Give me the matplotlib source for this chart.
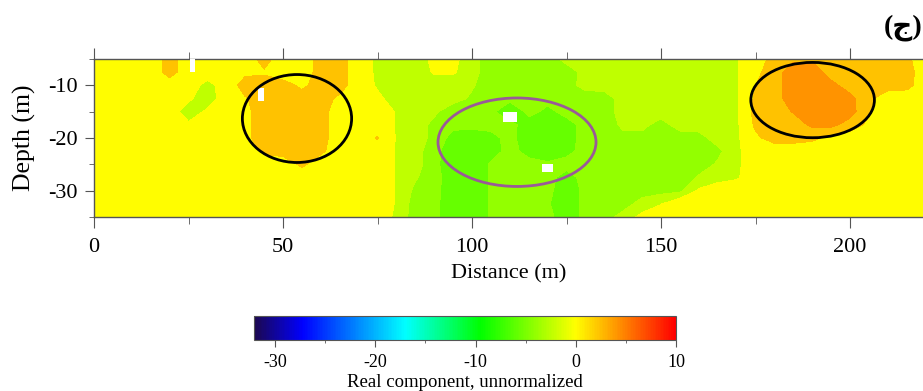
import numpy as np
import matplotlib
matplotlib.use('Agg')
import matplotlib.pyplot as plt
import matplotlib.patches as mpatches
from matplotlib.colors import LinearSegmentedColormap, Normalize
from matplotlib.cm import ScalarMappable

plt.rcParams['font.family'] = ['Liberation Serif', 'DejaVu Sans']
plt.rcParams['axes.unicode_minus'] = False

# grid nodes of the section
distance = [0, 5, 10, 15, 20, 25, 30, 35, 40, 45, 50, 55, 60, 65, 70, 75, 80, 85, 90, 95,
            100, 105, 110, 115, 120, 125, 130, 135, 140, 145, 150, 155, 160, 165, 170, 175,
            180, 185, 190, 195, 200, 205, 210, 215, 220]
depth = [-5, -7.5, -10, -12.5, -15, -17.5, -20, -22.5, -25, -27.5, -30, -32.5, -35]

# real component (unnormalized), one row per depth
real_part = [
    [0, 0, 0, 0, 2.5, 0, 0, 0, 0, 2.5, 0, 0, 2.5, 2.5, 0, -2.0, -2.5, -2.5, -1.0, -1.0, -2.5, -4.3, -4.3, -4.3, -4.3, -2.5, -2.5, -2.5, -2.5, -2.5, -2.5, -2.5, -2.5, -2.5, -1.7, 0, 2.5, 3.0, 3.0, 2.5, 2.5, 2.5, 2.5, 2.0, 0],
    [0, 0, 0, 0, 2.5, 0, 0, 0, 1.0, 1.2, 0, 0, 2.5, 2.5, 0, -2.0, -2.5, -2.5, -1.3, -1.3, -2.5, -4.3, -4.3, -4.3, -4.3, -4.3, -2.5, -2.5, -2.5, -2.5, -2.5, -2.5, -2.5, -2.5, -1.7, 1.0, 2.5, 4.3, 4.3, 2.5, 2.5, 2.5, 2.5, 2.5, 0],
    [0, 0, 0, 0, 0, 0, -2.5, 0, 2.5, 2.5, 2.5, 1.0, 2.5, 2.5, 0, -1.8, -2.5, -2.5, -2.5, -2.5, -3.0, -4.3, -4.3, -4.3, -4.3, -4.0, -2.5, -2.5, -2.5, -2.5, -2.5, -2.5, -2.5, -2.5, -1.8, 1.5, 2.5, 4.3, 4.3, 3.8, 2.5, 2.5, 2.5, 2.3, 0],
    [0, 0, 0, 0, 0, -1.0, -3.0, 0, 1.3, 2.5, 2.5, 2.5, 2.5, 1.0, 0, -1.0, -2.5, -2.5, -2.5, -2.5, -3.5, -4.3, -4.3, -4.3, -4.3, -4.3, -4.3, -4.0, -2.5, -2.5, -2.5, -2.5, -2.5, -2.5, -1.9, 2.0, 2.5, 4.3, 4.3, 4.3, 3.8, 2.0, 0, 0, 0],
    [0, 0, 0, 0, 0, -3.0, -1.0, 0, 1.0, 2.5, 2.5, 2.5, 2.5, 0, 0, 0, -1.7, -2.5, -2.9, -4.3, -4.3, -4.3, -6.3, -4.3, -5.2, -4.3, -4.3, -4.0, -2.5, -2.5, -2.5, -2.5, -2.5, -2.5, -2.0, 2.5, 2.5, 3.4, 4.3, 4.3, 4.0, 1.8, 0, 0, 0],
    [0, 0, 0, 0, 0, -1.0, 0, 0, 1.0, 2.5, 2.5, 2.5, 2.5, 0, 0, 0, -1.7, -2.5, -3.6, -4.3, -4.3, -4.3, -4.3, -5.6, -6.3, -5.4, -4.3, -4.3, -2.8, -2.8, -3.8, -2.5, -2.5, -2.5, -2.0, 2.0, 2.5, 2.5, 3.6, 3.8, 2.5, 1.0, 0, 0, 0],
    [0, 0, 0, 0, 0, 0, 0, 0, 1.0, 2.5, 2.5, 2.5, 2.5, 0, 0, 1.7, -1.7, -2.5, -3.6, -5.5, -5.8, -5.3, -4.3, -5.8, -6.3, -5.4, -4.3, -4.3, -3.7, -3.7, -4.3, -4.0, -3.8, -2.5, -2.0, 1.0, 2.5, 2.5, 2.0, 0.8, 0.5, 0, 0, 0, 0],
    [0, 0, 0, 0, 0, 0, 0, 0, 0, 2.0, 2.5, 2.5, 2.0, 0, 0, 0, -1.7, -2.5, -4.3, -5.8, -6.3, -5.5, -4.3, -5.3, -6.0, -5.2, -4.3, -4.3, -4.3, -4.3, -4.3, -4.3, -4.3, -3.6, -2.0, 0, 0, 0, 0, 0, 0, 0, 0, 0, 0],
    [0, 0, 0, 0, 0, 0, 0, 0, 0, 0, 0, 2.0, 0, 0, 0, 0, -1.7, -2.5, -4.3, -6.0, -6.3, -4.6, -4.3, -4.3, -4.5, -4.3, -4.3, -4.3, -4.3, -4.3, -4.3, -4.3, -4.0, -3.0, -2.0, 0, 0, 0, 0, 0, 0, 0, 0, 0, 0],
    [0, 0, 0, 0, 0, 0, 0, 0, 0, 0, 0, 0, 0, 0, 0, 0, -1.7, -3.0, -4.3, -5.6, -6.3, -4.6, -4.3, -4.3, -4.3, -5.4, -4.3, -4.3, -4.3, -4.3, -4.3, -4.3, -3.0, -2.5, -1.8, 0, 0, 0, 0, 0, 0, 0, 0, 0, 0],
    [0, 0, 0, 0, 0, 0, 0, 0, 0, 0, 0, 0, 0, 0, 0, 0, -1.7, -3.6, -4.3, -5.8, -6.3, -4.6, -4.3, -4.3, -4.3, -6.0, -4.3, -4.3, -4.3, -4.0, -3.8, -3.6, -1.2, 0, 0, 0, 0, 0, 0, 0, 0, 0, 0, 0, 0],
    [0, 0, 0, 0, 0, 0, 0, 0, 0, 0, 0, 0, 0, 0, 0, 0, -1.7, -4.0, -4.3, -6.0, -6.3, -4.6, -4.3, -4.3, -4.6, -6.0, -4.3, -4.3, -4.0, -2.5, -1.6, 0, 0, 0, 0, 0, 0, 0, 0, 0, 0, 0, 0, 0, 0],
    [0, 0, 0, 0, 0, 0, 0, 0, 0, 0, 0, 0, 0, 0, 0, 0, -2.0, -4.0, -4.3, -6.0, -6.0, -4.6, -4.3, -4.3, -4.3, -5.8, -4.3, -4.0, -2.5, -1.0, 0, 0, 0, 0, 0, 0, 0, 0, 0, 0, 0, 0, 0, 0, 0],
]

# contour intervals used for the fill
levels = [-6.6, -4.8, -3.2, -1.5, 1.5, 3.3, 5]

# colour scale
scale_vals = [-32.1, -27.3, -17.0, -9.5, 0.0, 10.0]
scale_cols = ['#1c0850', '#0000ff', '#00ffff', '#00ff00', '#ffff00', '#ff0000']

# blanked (no data) cells: x from, x to, depth top, depth bottom
gap_x0 = [25.4, 43.5, 108.2, 118.5]
gap_x1 = [26.7, 45.0, 111.9, 121.5]
gap_top = [-5.0, -10.5, -15.0, -25.0]
gap_bot = [-7.5, -13.0, -16.9, -26.5]

# anomaly outlines: centre x, centre depth, width, height, colour
ell_x = [53.7, 111.9, 190.1]
ell_z = [-16.3, -20.8, -12.8]
ell_w = [28.9, 41.8, 32.7]
ell_h = [16.7, 16.8, 14.3]
ell_col = ['black', '#9a5a98', 'black']

vmin, vmax = scale_vals[0], scale_vals[-1]
norm = Normalize(vmin=vmin, vmax=vmax)
pos = [(v - vmin) / (vmax - vmin) for v in scale_vals]
cmap = LinearSegmentedColormap.from_list('surfer', list(zip(pos, scale_cols)))

fig = plt.figure(figsize=(9.23, 3.91), dpi=100)
ax = fig.add_axes([94/923, 1 - 217/391, 1 - 94/923, 158/391])

ax.contourf(distance, depth, np.array(real_part), levels=levels, cmap=cmap, norm=norm)

for x0, x1, zt, zb in zip(gap_x0, gap_x1, gap_top, gap_bot):
    ax.add_patch(mpatches.Rectangle((x0, zb), x1 - x0, zt - zb, fc='white', ec='none', zorder=3))

for x, z, w, h, c in zip(ell_x, ell_z, ell_w, ell_h, ell_col):
    ax.add_patch(mpatches.Ellipse((x, z), w, h, fill=False, ec=c, lw=2.0, zorder=4))

ax.set_xlim(0, 219.3)
ax.set_ylim(-35, -5)

spine_col = '#555555'
for s in ['top', 'bottom', 'left']:
    ax.spines[s].set_color(spine_col)
    ax.spines[s].set_linewidth(1.0)
ax.spines['right'].set_visible(False)

ax.set_xticks([0, 50, 100, 150, 200])
ax.set_xticks([25, 75, 125, 175], minor=True)
ax.set_yticks([-30, -20, -10])
ax.set_yticks([-35, -25, -15, -5], minor=True)
ax.tick_params(axis='x', which='both', direction='out', top=True, bottom=True,
               colors=spine_col, labelcolor='black')
ax.tick_params(axis='x', which='major', length=8, pad=7, labelsize=16)
ax.tick_params(axis='x', which='minor', length=5)
ax.tick_params(axis='y', which='both', direction='out', right=False,
               colors=spine_col, labelcolor='black')
ax.tick_params(axis='y', which='major', length=6.5, pad=5, labelsize=16)
ax.tick_params(axis='y', which='minor', length=3.5)

ax.set_xlabel('Distance (m)', fontsize=16, labelpad=5)
ax.set_ylabel('Depth (m)', fontsize=18.5, labelpad=9)

cax = fig.add_axes([254/923, 1 - 340/391, 422/923, 24/391])
cb = fig.colorbar(ScalarMappable(norm=norm, cmap=cmap), cax=cax, orientation='horizontal')
cb.set_ticks([-30, -20, -10, 0, 10])
cb.set_ticks([-25, -15, -5, 5], minor=True)
cb.ax.tick_params(which='major', length=5, pad=5, labelsize=13, colors=spine_col, labelcolor='black')
cb.ax.tick_params(which='minor', length=2.5, colors=spine_col)
cb.outline.set_edgecolor(spine_col)
cb.outline.set_linewidth(0.8)
cb.set_label('Real component, unnormalized', fontsize=13.5, labelpad=2)

fig.text(0.999, 1 - 28/391, '(ج)', ha='right', va='center', fontsize=20, fontweight='bold')

fig.savefig('out.png', dpi=100)
